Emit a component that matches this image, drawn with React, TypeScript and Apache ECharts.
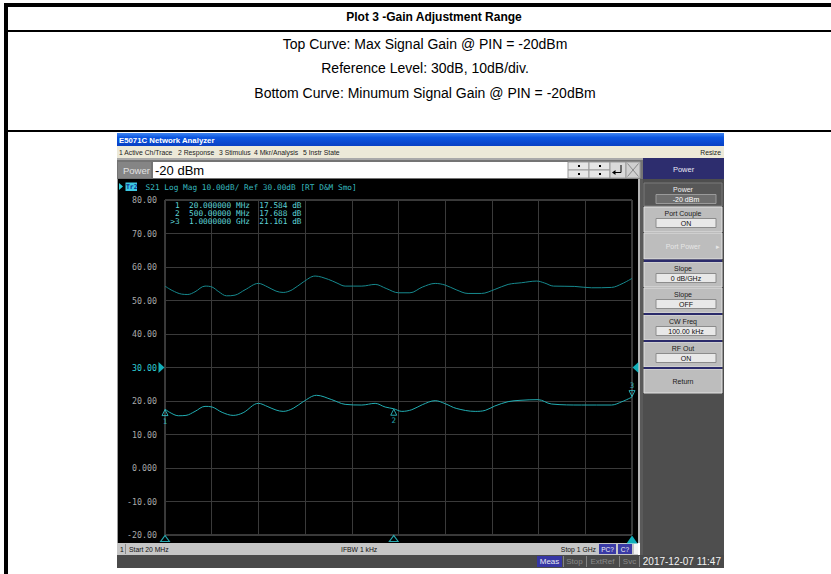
import { useEffect, useRef } from "react";
import * as echarts from "echarts";

// Sweep and display settings of the analyzer screen
const startMHz = 20;
const stopMHz = 1000;
const refLevelDb = 30;
const dbPerDiv = 10;
const yMinDb = -20;
const yMaxDb = 80;
const xDivisions = 10;

// Top curve: maximum gain setting
const maxGainFreqMHz = [20, 35, 55, 68, 83, 104, 119, 133, 149, 167, 188, 216, 236, 253, 268, 287, 310, 335, 363, 381, 398, 433, 461, 484, 510, 534, 560, 587, 608, 631, 656, 684, 712, 740, 768, 800, 817, 835, 880, 915, 957, 979, 1000];
const maxGainDb = [54.3, 53.0, 51.9, 51.8, 52.6, 54.3, 54.0, 52.6, 51.4, 51.6, 53.2, 55.1, 54.0, 52.8, 52.4, 53.2, 55.5, 57.3, 56.3, 55.2, 54.3, 54.3, 54.8, 53.6, 52.3, 52.3, 54.0, 55.1, 54.6, 53.2, 52.1, 52.1, 53.3, 54.8, 55.3, 55.8, 55.2, 54.3, 54.2, 53.8, 53.9, 55.0, 56.6];

// Bottom curve: minimum gain setting
const minGainFreqMHz = [20, 30, 48, 64, 83, 104, 119, 140, 163, 184, 216, 236, 253, 268, 289, 310, 338, 370, 398, 433, 461, 482, 500, 517, 538, 560, 587, 608, 631, 671, 692, 712, 740, 765, 803, 831, 894, 957, 979, 1000];
const minGainDb = [17.584, 16.6, 15.6, 15.7, 16.9, 18.4, 18.2, 16.6, 15.7, 16.5, 19.3, 18.3, 17.3, 16.9, 17.8, 19.8, 21.7, 20.4, 19.0, 18.8, 19.3, 18.2, 17.688, 16.9, 17.4, 18.9, 20.1, 19.2, 17.8, 16.9, 17.2, 18.5, 19.8, 20.2, 20.4, 19.1, 18.8, 18.8, 19.8, 21.161];

// Markers placed on the bottom curve
const markerFreqMHz = [20, 500, 1000];
const markerGainDb = [17.584, 17.688, 21.161];
const activeMarker = 2;

// Document texts
const headerTitle = "Plot 3 -Gain Adjustment Range";
const noteLines = [
  "Top Curve: Max Signal Gain @ PIN = -20dBm",
  "Reference Level: 30dB, 10dB/div.",
  "Bottom Curve: Minumum Signal Gain @ PIN = -20dBm",
];

// Instrument screen texts
const menuLabels = ["1 Active Ch/Trace", "2 Response", "3 Stimulus", "4 Mkr/Analysis", "5 Instr State"];
const softkeyLabels = ["Power", "Port Couple", "Port Power", "Slope", "Slope", "CW Freq", "RF Out", "Return"];
const softkeyValues = ["-20 dBm", "ON", "", "0 dB/GHz", "OFF", "100.00 kHz", "ON", ""];
const powerEntry = "-20 dBm";
const timestamp = "2017-12-07 11:47";

const MONO = "'DejaVu Sans Mono', monospace";
const SANS = "'Liberation Sans', Arial, sans-serif";

const CYAN = "#2fcfd8";
const BRIGHT_CYAN = "#16dbe8";

const rect = (x: number, y: number, w: number, h: number, fill: any, extra: any = {}, z = 1) => ({
  type: "rect",
  silent: true,
  z,
  shape: { x, y, width: w, height: h },
  style: { fill, ...extra },
});

const text = (
  x: number,
  y: number,
  str: string,
  font: string,
  fill: string,
  align = "left",
  vAlign = "middle",
  z = 3
) => ({
  type: "text",
  silent: true,
  x,
  y,
  z,
  style: { text: str, font, fill, textAlign: align, align, textVerticalAlign: vAlign, verticalAlign: vAlign },
});

const line = (x1: number, y1: number, x2: number, y2: number, stroke: string, lineWidth = 1, z = 3) => ({
  type: "line",
  silent: true,
  z,
  shape: { x1, y1, x2, y2 },
  style: { stroke, lineWidth },
});

const fmtFreq = (f: number) => (f >= 1000 ? (f / 1000).toPrecision(8) + " GHz" : f.toPrecision(8) + " MHz");
const fmtShortFreq = (f: number) => (f >= 1000 ? f / 1000 + " GHz" : f + " MHz");

function buildGraphics() {
  const g: any[] = [];

  // Document table frame
  g.push(rect(4, 3, 827, 4, "#000"));
  g.push(rect(4, 3, 4, 571, "#000"));
  g.push(rect(4, 30, 827, 2, "#000"));
  g.push(rect(4, 130, 827, 2, "#000"));
  g.push(text(434, 17, headerTitle, `bold 12px ${SANS}`, "#000", "center"));
  const noteY = [44, 68, 93];
  noteLines.forEach((s, i) => g.push(text(425, noteY[i], s, `14px ${SANS}`, "#000", "center")));

  // Window title bar
  g.push(
    rect(117, 133, 607, 13, new (echarts.graphic as any).LinearGradient(0, 0, 0, 1, [
      { offset: 0, color: "#3f86f2" },
      { offset: 0.35, color: "#0b55e0" },
      { offset: 1, color: "#0840c4" },
    ]))
  );
  g.push(text(119, 140, "E5071C Network Analyzer", `bold 7.8px ${SANS}`, "#ffffff"));

  // Menu bar
  g.push(rect(117, 146, 607, 12, "#ece9d8"));
  const menuX = [119, 178, 219, 254, 303];
  menuLabels.forEach((s, i) => g.push(text(menuX[i], 152.5, s, `6.8px ${SANS}`, "#222")));
  g.push(text(721, 152.5, "Resize", `6.8px ${SANS}`, "#222", "right"));

  // Entry bar
  g.push(rect(117, 158, 526, 21, "#747474"));
  g.push(rect(117, 158, 526, 2, "#a9a9a9"));
  g.push(rect(118, 162, 33, 16, "#858585"));
  g.push(text(123, 170, "Power", `9.5px ${SANS}`, "#e2e2e2"));
  g.push(rect(153, 162, 415, 16, "#ffffff"));
  g.push(text(155, 170.5, powerEntry, `13px ${SANS}`, "#000"));
  [
    [568, 162],
    [589, 162],
    [568, 170],
    [589, 170],
  ].forEach(([x, y]) => {
    g.push(rect(x, y, 21, 8, "#e6e6e6", { stroke: "#9a9a9a", lineWidth: 1 }, 2));
    g.push(rect(x + 10, y + 3, 2, 2, "#000", {}, 3));
  });
  g.push(rect(610, 162, 16, 16, "#d9d9d9", { stroke: "#9a9a9a", lineWidth: 1 }, 2));
  g.push(line(621, 165, 621, 172.5, "#000", 1));
  g.push(line(621, 172.5, 614, 172.5, "#000", 1));
  g.push({ type: "polygon", silent: true, z: 3, shape: { points: [[612, 172.5], [615.5, 170], [615.5, 175]] }, style: { fill: "#000" } });
  g.push(rect(626, 162, 14, 16, "#d0d0d0", { stroke: "#9a9a9a", lineWidth: 1 }, 2));
  g.push(line(627.5, 163.5, 638.5, 176.5, "#8a8a8a", 1));
  g.push(line(638.5, 163.5, 627.5, 176.5, "#8a8a8a", 1));

  // Soft key panel
  g.push(rect(643, 158, 81, 21, "#2d2d6e"));
  g.push(text(683.5, 169, "Power", `7.5px ${SANS}`, "#e8e8f4", "center"));
  g.push(rect(643, 179, 81, 376, "#4e4e4e"));

  // Measurement area
  g.push(rect(117, 179, 521, 364, "#000"));
  g.push(rect(117, 179, 1, 364, "#9a9a9a"));
  g.push(rect(638, 179, 2, 364, "#b4b4b4"));
  g.push(rect(640, 179, 3, 376, "#5a5a5a"));

  // Trace status line
  g.push({ type: "polygon", silent: true, z: 3, shape: { points: [[119, 183], [123, 186.5], [119, 190]] }, style: { fill: CYAN } });
  g.push(rect(125.5, 182.5, 11.5, 8.5, "#3cc8e2", {}, 2));
  g.push(text(126, 187, "Tr2", `bold 6.4px ${MONO}`, "#0d2a8a", "left", "middle", 4));
  g.push(
    text(
      145.5,
      187,
      `S21 Log Mag ${dbPerDiv.toFixed(2)}dB/ Ref ${refLevelDb.toFixed(2)}dB [RT D&M Smo]`,
      `7.8px ${MONO}`,
      "#36b9bf"
    )
  );

  // Marker readout table
  const rowY = [205.7, 213.7, 221.3];
  markerFreqMHz.forEach((f, i) => {
    const id = (i === activeMarker ? ">" : " ") + (i + 1);
    g.push(text(170.3, rowY[i], id, `7.8px ${MONO}`, "#5fd3d6", "left", "middle", 20));
    g.push(text(189, rowY[i], fmtFreq(f), `7.8px ${MONO}`, "#5fd3d6", "left", "middle", 20));
    g.push(text(259.3, rowY[i], markerGainDb[i].toFixed(3) + " dB", `7.8px ${MONO}`, "#5fd3d6", "left", "middle", 20));
  });

  // Channel status bar
  g.push(rect(117, 543, 521, 12, "#c6c6c6"));
  g.push(text(120, 549, "1", `6.8px ${SANS}`, "#111"));
  g.push(line(125.5, 544, 125.5, 554, "#8a8a8a"));
  g.push(text(129, 549, "Start " + fmtShortFreq(startMHz), `6.8px ${SANS}`, "#111"));
  g.push(text(341, 549, "IFBW 1 kHz", `6.8px ${SANS}`, "#111"));
  g.push(text(596, 549, "Stop " + fmtShortFreq(stopMHz), `6.8px ${SANS}`, "#111", "right"));
  g.push(rect(599, 544, 17, 10, "#3a3aa6", {}, 2));
  g.push(text(607.5, 549, "PC?", `6.5px ${SANS}`, "#f2f2f2", "center"));
  g.push(rect(618, 544, 14, 10, "#3a3aa6", {}, 2));
  g.push(text(625, 549, "C?", `6.5px ${SANS}`, "#f2f2f2", "center"));
  g.push(rect(634, 544, 4, 10, "#f4f4f4", {}, 2));

  // Instrument status bar
  g.push(rect(117, 555, 607, 13, "#4a4a4a"));
  g.push(rect(537, 556, 25, 11, "#3636a4", {}, 2));
  g.push(text(549.5, 561.8, "Meas", `8px ${SANS}`, "#e6e6f2", "center"));
  [563, 586, 619, 639].forEach((x) => g.push(line(x + 0.5, 556, x + 0.5, 567, "#858585")));
  g.push(text(574.5, 561.8, "Stop", `8px ${SANS}`, "#8b8b8b", "center"));
  g.push(text(602.5, 561.8, "ExtRef", `8px ${SANS}`, "#8b8b8b", "center"));
  g.push(text(629.5, 561.8, "Svc", `8px ${SANS}`, "#8b8b8b", "center"));
  g.push(text(721, 561.8, timestamp, `10px ${SANS}`, "#f2f2f2", "right"));

  // Soft keys
  const keyTop = [183, 207, 233, 262, 288, 315, 342, 369];
  const keyH = [23, 25, 26, 25, 25, 25, 25, 24];
  softkeyLabels.forEach((lab, i) => {
    const top = keyTop[i];
    const h = keyH[i];
    const selected = i === 0;
    const disabled = i === 2;
    const bg = selected ? "#575757" : "#bdbdbd";
    g.push(rect(644, top, 78, h, bg, { stroke: selected ? "#7a7a7a" : "#e2e2e2", lineWidth: 1 }, 2));
    const val = softkeyValues[i];
    const labColor = selected ? "#f0f0f0" : disabled ? "#e6e6e6" : "#1a1a1a";
    if (val) {
      g.push(text(683, top + 6.5, lab, `7px ${SANS}`, labColor, "center"));
      g.push(
        rect(656, top + 11.5, 60, 9, selected ? "#6e6e6e" : "#e8e8e8", { stroke: selected ? "#9a9a9a" : "#8c8c8c", lineWidth: 1 }, 3)
      );
      g.push(text(686, top + 16.2, val, `7px ${SANS}`, selected ? "#ffffff" : "#111", "center", "middle", 4));
    } else {
      g.push(text(683, top + h / 2, lab, `7px ${SANS}`, labColor, "center"));
      if (disabled) g.push(text(718, top + h / 2, "▸", `7px ${SANS}`, "#e6e6e6", "center"));
    }
  });
  [
    [259.5, 2.5],
    [313, 2],
    [340, 2],
    [367, 2],
  ].forEach(([y, h]) => g.push(rect(644, y, 78, h, "#2b2b6b", {}, 3)));

  return g;
}

const upTri = "path://M5,0L10,8L0,8Z";
const downTri = "path://M0,0L10,0L5,8Z";
const rightTri = "path://M0,0L8,5L0,10Z";
const leftTri = "path://M8,0L0,5L8,10Z";

export default function App() {
  const ref = useRef<HTMLDivElement>(null);

  useEffect(() => {
    document.body.style.margin = "0";
    if (!ref.current) return;
    const chart = echarts.init(ref.current, undefined, { renderer: "svg" });

    const option: any = {
      animation: false,
      backgroundColor: "#ffffff",
      graphic: { elements: buildGraphics() },
      grid: {
        left: 165,
        top: 200,
        width: 467,
        height: 335,
        show: true,
        borderColor: "#707070",
        borderWidth: 1,
        backgroundColor: "transparent",
        z: 5,
      },
      xAxis: [
        { type: "value", min: startMHz, max: stopMHz, show: false },
        {
          type: "value",
          min: 0,
          max: xDivisions,
          interval: 1,
          z: 5,
          axisLine: { show: false },
          axisTick: { show: false },
          axisLabel: { show: false },
          splitLine: { show: true, lineStyle: { color: "#3a3a3a", width: 1 } },
        },
      ],
      yAxis: {
        type: "value",
        min: yMinDb,
        max: yMaxDb,
        interval: dbPerDiv,
        z: 5,
        axisLine: { show: false },
        axisTick: { show: false },
        splitLine: { show: true, lineStyle: { color: "#3a3a3a", width: 1 } },
        axisLabel: {
          margin: 8,
          fontFamily: MONO,
          fontSize: 8.3,
          color: "#a9a9a9",
          formatter: (v: number) => {
            const s = v === 0 ? "0.000" : v.toFixed(2);
            return v === refLevelDb ? `{ref|${s}}` : s;
          },
          rich: { ref: { color: CYAN, fontFamily: MONO, fontSize: 8.3 } },
        },
      },
      series: [
        {
          name: "Max Signal Gain",
          type: "line",
          xAxisIndex: 0,
          data: maxGainFreqMHz.map((f, i) => [f, maxGainDb[i]]),
          showSymbol: false,
          smooth: 0.35,
          lineStyle: { color: "#16898e", width: 1 },
          z: 10,
        },
        {
          name: "Min Signal Gain",
          type: "line",
          xAxisIndex: 0,
          data: minGainFreqMHz.map((f, i) => [f, minGainDb[i]]),
          showSymbol: false,
          smooth: 0.35,
          lineStyle: { color: "#21adb2", width: 1 },
          z: 10,
        },
        {
          name: "Markers",
          type: "scatter",
          xAxisIndex: 0,
          clip: false,
          z: 11,
          data: markerFreqMHz.map((f, i) => {
            const act = i === activeMarker;
            return {
              value: [f, markerGainDb[i]],
              symbol: act ? downTri : upTri,
              symbolSize: [6, 6],
              symbolOffset: act ? [0, -3.5] : [0, 3.5],
              label: {
                show: true,
                formatter: String(i + 1),
                position: act ? "top" : "bottom",
                distance: 1,
                color: CYAN,
                fontFamily: MONO,
                fontSize: 7.5,
              },
            };
          }),
          itemStyle: { color: "rgba(0,0,0,0)", borderColor: CYAN, borderWidth: 1 },
        },
        {
          name: "Marker stimulus",
          type: "scatter",
          xAxisIndex: 0,
          clip: false,
          z: 11,
          data: markerFreqMHz.map((f, i) => {
            const act = i === activeMarker;
            return {
              value: [f, yMinDb],
              symbol: upTri,
              symbolSize: act ? [11, 8] : [9, 6],
              symbolOffset: act ? [0, 4.5] : [0, 3.5],
              itemStyle: act
                ? { color: BRIGHT_CYAN, borderWidth: 0 }
                : { color: "rgba(0,0,0,0)", borderColor: CYAN, borderWidth: 1 },
            };
          }),
        },
        {
          name: "Reference level",
          type: "scatter",
          xAxisIndex: 0,
          clip: false,
          z: 11,
          data: [
            { value: [startMHz, refLevelDb], symbol: rightTri, symbolOffset: [-3.5, 0] },
            { value: [stopMHz, refLevelDb], symbol: leftTri, symbolOffset: [3.5, 0] },
          ],
          symbolSize: [6, 11],
          itemStyle: { color: BRIGHT_CYAN },
        },
      ],
    };

    chart.setOption(option);
    return () => chart.dispose();
  }, []);

  return <div ref={ref} style={{ width: 831, height: 574 }} />;
}
